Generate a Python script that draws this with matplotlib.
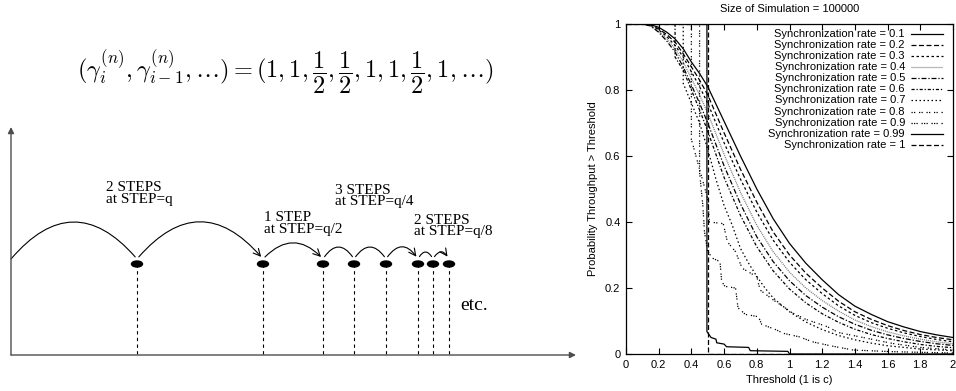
import matplotlib
matplotlib.use("Agg")
import matplotlib.pyplot as plt
from matplotlib.patches import Ellipse, FancyArrowPatch

# ---- left diagram (pixel coordinates) ----
hop_x = [11, 137, 263, 323, 354, 386, 418, 433, 449]
hop_sag = [37, 37, 16, 12, 12, 12, 7, 7]          # arc height of each hop
hop_arrow = [False, True, True, False, False, True, False, True]
step_labels = ["2 STEPS\nat STEP=q", "1 STEP\nat STEP=q/2",
               "3 STEPS\nat STEP=q/4", "2 STEPS\nat STEP=q/8"]
step_label_xy = [(106, 181), (264, 211), (335, 184), (414, 214)]
formula = (r"$(\gamma_i^{(n)},\gamma_{i-1}^{(n)},\ldots)"
           r"=(1,1,\dfrac{1}{2},\dfrac{1}{2},1,1,\dfrac{1}{2},1,\ldots)$")

# ---- right chart ----
rates = ["0.1", "0.2", "0.3", "0.4", "0.5", "0.6", "0.7", "0.8", "0.9", "0.99", "1"]

x_smooth = [0, 0.1, 0.15, 0.2, 0.25, 0.3, 0.35, 0.4, 0.45, 0.5, 0.6, 0.7, 0.8,
            0.9, 1.0, 1.1, 1.2, 1.3, 1.4, 1.5, 1.6, 1.7, 1.8, 1.9, 2.0]
y_r01 = [1, 1, 0.998, 0.99, 0.975, 0.955, 0.925, 0.885, 0.85, 0.81, 0.705, 0.6, 0.5,
         0.41, 0.335, 0.275, 0.225, 0.18, 0.145, 0.12, 0.098, 0.082, 0.068, 0.058, 0.05]
y_r02 = [1, 1, 0.997, 0.985, 0.968, 0.945, 0.91, 0.87, 0.83, 0.785, 0.67, 0.56, 0.46,
         0.37, 0.3, 0.245, 0.2, 0.16, 0.128, 0.105, 0.086, 0.071, 0.059, 0.05, 0.043]
y_r03 = [1, 1, 0.996, 0.982, 0.962, 0.935, 0.9, 0.855, 0.81, 0.76, 0.64, 0.53, 0.43,
         0.345, 0.278, 0.225, 0.183, 0.146, 0.117, 0.095, 0.078, 0.064, 0.053, 0.044, 0.037]
y_r04 = [1, 1, 0.995, 0.978, 0.955, 0.925, 0.885, 0.835, 0.785, 0.73, 0.605, 0.49, 0.39,
         0.31, 0.248, 0.2, 0.162, 0.13, 0.103, 0.083, 0.067, 0.055, 0.045, 0.037, 0.031]
y_r05 = [1, 1, 0.994, 0.975, 0.948, 0.915, 0.87, 0.815, 0.76, 0.7, 0.57, 0.455, 0.355,
         0.28, 0.222, 0.177, 0.142, 0.113, 0.09, 0.072, 0.058, 0.047, 0.038, 0.031, 0.026]

x_r06 = [0, 0.3, 0.3, 0.35, 0.4, 0.45, 0.5, 0.6, 0.7, 0.8, 0.9, 1.0, 1.1, 1.2, 1.3,
         1.4, 1.5, 1.6, 1.7, 1.8, 1.9, 2.0]
y_r06 = [1, 1, 0.9, 0.86, 0.8, 0.74, 0.675, 0.535, 0.42, 0.325, 0.252, 0.197, 0.155,
         0.122, 0.096, 0.075, 0.059, 0.047, 0.037, 0.029, 0.023, 0.019]
x_r07 = [0, 0.35, 0.35, 0.4, 0.45, 0.5, 0.55, 0.6, 0.65, 0.7, 0.75, 0.8, 0.85, 0.9,
         1.0, 1.1, 1.2, 1.3, 1.4, 1.5, 1.6, 1.8, 2.0]
y_r07 = [1, 1, 0.82, 0.76, 0.7, 0.62, 0.53, 0.45, 0.39, 0.32, 0.275, 0.235, 0.2, 0.17,
         0.128, 0.097, 0.074, 0.056, 0.043, 0.033, 0.025, 0.015, 0.01]
x_r08 = [0, 0.4, 0.4, 0.45, 0.5, 0.51, 0.595, 0.62, 0.67, 0.71, 0.8, 0.82, 0.9, 1.02,
         1.1, 1.23, 1.3, 1.43, 1.63, 1.8, 2.0]
y_r08 = [1, 1, 0.65, 0.56, 0.47, 0.40, 0.395, 0.34, 0.31, 0.26, 0.234, 0.194, 0.164,
         0.124, 0.105, 0.083, 0.065, 0.052, 0.032, 0.02, 0.012]
x_r09 = [0, 0.45, 0.45, 0.47, 0.48, 0.5, 0.53, 0.575, 0.585, 0.605, 0.67, 0.685, 0.73,
         0.81, 0.83, 0.92, 0.96, 1.06, 1.14, 1.25, 1.39, 1.63, 2.0]
y_r09 = [1, 1, 0.55, 0.45, 0.37, 0.31, 0.29, 0.28, 0.22, 0.205, 0.2, 0.14, 0.12,
         0.113, 0.09, 0.073, 0.063, 0.052, 0.037, 0.025, 0.012, 0.007, 0.003]
x_r099 = [0, 0.495, 0.495, 0.52, 0.55, 0.555, 0.6, 0.615, 0.75, 0.76, 0.99, 1.0, 2.0]
y_r099 = [1, 1, 0.068, 0.05, 0.045, 0.034, 0.03, 0.022, 0.02, 0.01, 0.008, 0, 0]
x_r1 = [0, 0.5, 0.5, 2.0]
y_r1 = [1, 1, 0, 0]

curves_x = [x_smooth] * 5 + [x_r06, x_r07, x_r08, x_r09, x_r099, x_r1]
curves_y = [y_r01, y_r02, y_r03, y_r04, y_r05, y_r06, y_r07, y_r08, y_r09, y_r099, y_r1]
styles = ["-", (0, (4, 2)), (0, (2, 2)), (0, (0.8, 0.8)), (0, (4, 1.5, 1, 1.5)),
          (0, (2.5, 1.5, 1, 1.5)), (0, (1.2, 2)), (0, (1, 1, 1, 3)),
          (0, (1, 1, 1, 1, 1, 3)), "-", (0, (4, 2))]
colors = ["k", "k", "k", "0.45", "k", "k", "k", "k", "k", "k", "k"]

W, H = 956, 391
fig = plt.figure(figsize=(W / 100, H / 100), dpi=100)

ax0 = fig.add_axes([0, 0, 1, 1])
ax0.set_xlim(0, W)
ax0.set_ylim(H, 0)
ax0.axis("off")

ax0.text(285, 72, formula, ha="center", va="center", fontsize=17.5,
         math_fontfamily="cm")

dot_y = 264
base_y = 355
ax0.annotate("", xy=(576, base_y), xytext=(11, base_y),
             arrowprops=dict(arrowstyle="-|>", lw=1.0, color="0.3",
                             shrinkA=0, shrinkB=0, mutation_scale=9))
ax0.annotate("", xy=(11, 127), xytext=(11, base_y),
             arrowprops=dict(arrowstyle="-|>", lw=1.0, color="0.3",
                             shrinkA=0, shrinkB=0, mutation_scale=9))

for xp in hop_x[1:]:
    ax0.add_patch(Ellipse((xp, dot_y), 11, 6, color="k"))
    ax0.plot([xp, xp], [dot_y, base_y], color="k", lw=0.8, ls=(0, (3, 3)))

for i in range(len(hop_x) - 1):
    a, b = hop_x[i], hop_x[i + 1]
    rad = -2 * hop_sag[i] / (b - a)
    style = "->,head_length=0.5,head_width=0.25" if hop_arrow[i] else "-"
    ax0.add_patch(FancyArrowPatch((a, dot_y - 5), (b, dot_y - 5),
                                  connectionstyle=f"arc3,rad={rad}",
                                  arrowstyle=style, mutation_scale=10,
                                  lw=0.8, color="k",
                                  shrinkA=0 if i == 0 else 2, shrinkB=2))

for lab, (lx, ly) in zip(step_labels, step_label_xy):
    ax0.text(lx, ly, lab, ha="left", va="top", fontsize=11,
             family="Liberation Serif", linespacing=0.85)
ax0.text(460, 305, "etc.", ha="left", va="center", fontsize=14,
         family="Liberation Serif")

# ---- right plot ----
x0, x1, y0, y1 = 626, 953, 354, 24
ax = fig.add_axes([x0 / W, 1 - y0 / H, (x1 - x0) / W, (y0 - y1) / H])
for xs, ys, ls, c in zip(curves_x, curves_y, styles, colors):
    ax.plot(xs, ys, ls=ls, color=c, lw=0.9)

ax.set_xlim(0, 2)
ax.set_ylim(0, 1)
ax.set_xticks([0, 0.2, 0.4, 0.6, 0.8, 1, 1.2, 1.4, 1.6, 1.8, 2])
ax.set_xticklabels(["0", "0.2", "0.4", "0.6", "0.8", "1", "1.2", "1.4", "1.6", "1.8", "2"])
ax.set_yticks([0, 0.2, 0.4, 0.6, 0.8, 1])
ax.set_yticklabels(["0", "0.2", "0.4", "0.6", "0.8", "1"])
ax.tick_params(direction="in", top=True, right=True, length=4, width=0.8,
               labelsize=8, pad=4)
for lab in ax.get_xticklabels() + ax.get_yticklabels():
    lab.set_family("Liberation Sans")
for s in ax.spines.values():
    s.set_linewidth(0.9)
ax.set_xlabel("Threshold (1 is c)", fontsize=8, family="Liberation Sans", labelpad=4)
ax.set_ylabel("Probability Throughput > Threshold", fontsize=8,
              family="Liberation Sans", labelpad=5)
ax.set_title("Size of Simulation = 100000", fontsize=8, family="Liberation Sans", pad=9)

# gnuplot-style key: right aligned text, sample on the right
key_top = 0.970
key_step = 0.0336
for i, (r, ls, c) in enumerate(zip(rates, styles, colors)):
    ky = key_top - i * key_step
    ax.text(0.853, ky, f"Synchronization rate = {r}", transform=ax.transAxes,
            ha="right", va="center", fontsize=8, family="Liberation Sans")
    ax.plot([0.871, 0.969], [ky, ky], transform=ax.transAxes, ls=ls, color=c, lw=0.9)

fig.savefig("out.png", dpi=100)
